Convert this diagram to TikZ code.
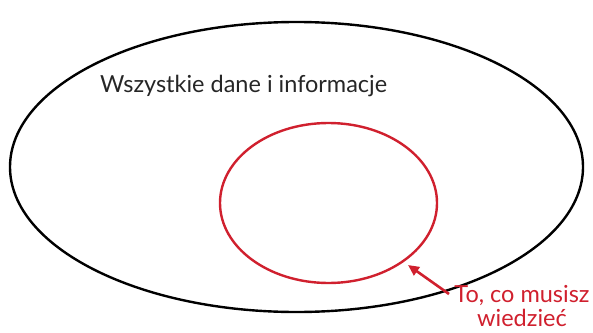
\documentclass[tikz,border=0pt]{standalone}
\usepackage{fontspec}
\setmainfont{Lato}
\usetikzlibrary{shapes.geometric,arrows.meta}
\definecolor{myred}{HTML}{D0202E}
\definecolor{mytext}{HTML}{262626}
\begin{document}
\begin{tikzpicture}[x=1pt,y=-1pt,
  outer/.style={ellipse,draw=black,line width=2.4pt,minimum width=573pt,minimum height=290pt,inner sep=0pt},
  inner/.style={ellipse,draw=myred,line width=2.4pt,minimum width=217pt,minimum height=160pt,inner sep=0pt},
  lbl/.style={font=\fontsize{23.5}{26}\selectfont,text=mytext},
  redlbl/.style={font=\fontsize{23.5}{24}\selectfont,text=myred,align=center,inner sep=0pt}]
\useasboundingbox (0,0) rectangle (593,332);
\node[outer] (all) at (296.5,167) {};
\node[inner] (need) at (328.5,203) {};
\node[lbl,anchor=base west,inner sep=0pt] (alltext) at (100,92) {Wszystkie dane i informacje};
\node[redlbl,anchor=north] (needtext) at (522,285) {To, co musisz\\wiedzieć};
\coordinate (tip) at (408,265);
\coordinate (tail) at (449,294);
\draw[myred,line width=2.6pt,-{Triangle[length=11pt,width=10pt]}] (tail) -- (tip);
\end{tikzpicture}
\end{document}
